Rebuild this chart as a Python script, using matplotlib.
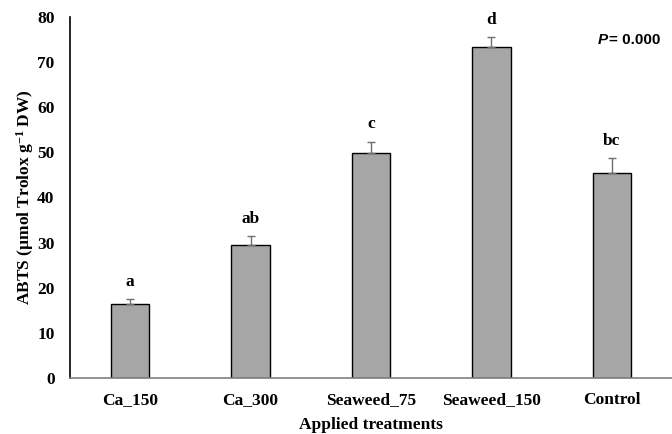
import numpy as np
import matplotlib
matplotlib.use('Agg')
import matplotlib.pyplot as plt

# treatment means, standard errors and significance letters
treatments = ['Ca_150', 'Ca_300', 'Seaweed_75', 'Seaweed_150', 'Control']
abts = [16.5, 29.5, 49.9, 73.4, 45.4]
abts_err = [1.1, 1.9, 2.5, 2.1, 3.3]
letters = ['a', 'ab', 'c', 'd', 'bc']

plt.rcParams['font.family'] = ['Liberation Serif', 'DejaVu Serif']
plt.rcParams['mathtext.fontset'] = 'custom'
plt.rcParams['mathtext.rm'] = 'Liberation Serif:bold'
plt.rcParams['mathtext.it'] = 'Liberation Serif:bold'
plt.rcParams['mathtext.bf'] = 'Liberation Serif:bold'

fig, ax = plt.subplots(figsize=(6.72, 4.34), dpi=100)
fig.subplots_adjust(left=0.104, right=1.0, top=0.961, bottom=0.129)

x = np.arange(len(treatments))
ax.bar(x, abts, width=0.32, color='#a6a6a6', edgecolor='black', linewidth=1.0, zorder=2)
ax.errorbar(x, abts, yerr=[np.zeros(len(abts)), abts_err], fmt='none',
            ecolor='#6e6e6e', elinewidth=1.0, capsize=3, capthick=1.0, zorder=3)

for xi, v, e, lab in zip(x, abts, abts_err, letters):
    ax.text(xi, v + e + 2.0, lab, ha='center', va='bottom',
            fontsize=12.5, fontweight='bold')

# p-value of the one-way ANOVA
ax.text(0.876, 0.955, 'P', transform=ax.transAxes, ha='left', va='top',
        fontsize=11, fontweight='bold', fontstyle='italic', family='Liberation Sans')
ax.text(0.896, 0.955, '= 0.000', transform=ax.transAxes, ha='left', va='top',
        fontsize=11, fontweight='bold', family='Liberation Sans')

ax.set_xlim(-0.5, len(treatments) - 0.5)
ax.set_ylim(0, 80)
ax.set_yticks(np.arange(0, 81, 10))
ax.set_xticks(x)
ax.set_xticklabels(treatments)
ax.tick_params(axis='both', length=0, labelsize=12.5)
ax.tick_params(axis='x', pad=10)
ax.tick_params(axis='y', pad=11)
for lbl in ax.get_xticklabels() + ax.get_yticklabels():
    lbl.set_fontweight('bold')

ax.set_xlabel('Applied treatments', fontsize=12.5, fontweight='bold', labelpad=6.5)
ax.set_ylabel(r'ABTS (µmol Trolox g$^{-1}$ DW)', fontsize=12.5, fontweight='bold', labelpad=0.5)

for s in ['top', 'right']:
    ax.spines[s].set_visible(False)
ax.spines['left'].set_color('black')
ax.spines['bottom'].set_color('#7f7f7f')
ax.spines['left'].set_linewidth(1.2)
ax.spines['bottom'].set_linewidth(1.2)

plt.savefig('out.png', dpi=100)
